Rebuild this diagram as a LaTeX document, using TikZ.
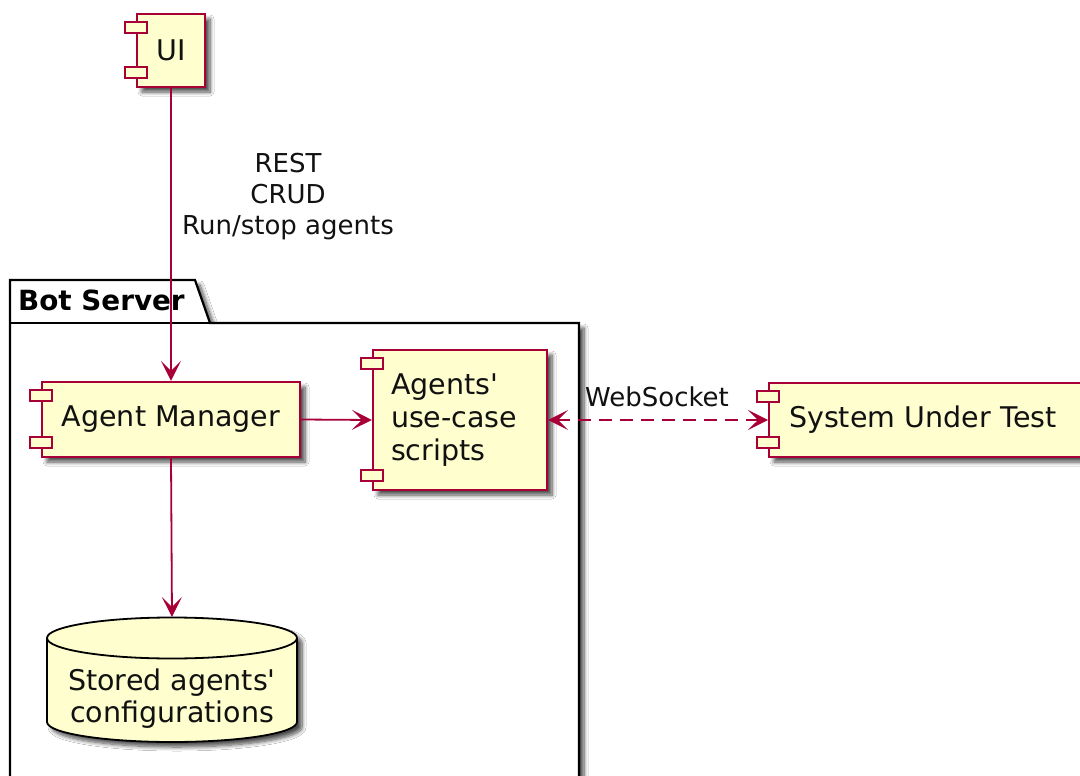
\documentclass[tikz,border=0pt]{standalone}
\usepackage{fontspec}
\setmainfont{DejaVu Sans}
\usetikzlibrary{arrows.meta,calc,shadows.blur}
\definecolor{pborder}{HTML}{A80036}
\definecolor{pfill}{HTML}{FEFECE}
\definecolor{ink}{HTML}{111111}

\tikzset{
  softshadow/.style={blur shadow={shadow xshift=5pt, shadow yshift=-5pt,
      shadow blur radius=4pt, shadow blur steps=8, shadow opacity=70}},
  comp/.style={draw=pborder, fill=pfill, line width=2.2pt, inner sep=0pt, text=ink,
      font=\fontsize{28.5}{33}\selectfont, softshadow},
  compbar/.style={draw=pborder, fill=pfill, line width=2.2pt},
  link/.style={draw=pborder, line width=1.8pt, -{Stealth[length=20pt, width=20pt, inset=10pt]}},
  wslink/.style={draw=pborder, line width=1.8pt, dash pattern=on 13pt off 8pt,
      {Stealth[length=20pt, width=20pt, inset=10pt]}-{Stealth[length=20pt, width=20pt, inset=10pt]}},
  lbl/.style={font=\fontsize{26}{31}\selectfont, text=ink, inner sep=0pt, align=center},
  pkg/.style={draw=black, fill=white, line width=2.2pt, softshadow},
  dbshape/.style={draw=black, fill=pfill, line width=1.8pt},
}

% the two small port bars on the left side of a component box
\newcommand\cbars[1]{%
  \draw[compbar] ($(#1.north west)+(-11,9)$) rectangle ++(22,11);
  \draw[compbar] ($(#1.south west)+(-11,-21)$) rectangle ++(22,11);
}

\begin{document}
\begin{tikzpicture}[x=1pt, y=-1pt]
  \useasboundingbox (0,0) rectangle (1080,776);
  \fill[white] (0,0) rectangle (1080,776);

  % package frame "Bot Server"
  \path[pkg] (10,800) -- (10,280) -- (195,280) -- (210,323) -- (579,323) -- (579,800) -- cycle;
  \draw[black, line width=2.2pt] (10,323) -- (210,323);
  \node[font=\fontsize{27.8}{32}\selectfont\bfseries, anchor=west, inner sep=0pt] (pkgname) at (18,300) {Bot Server};

  % database cylinder
  \path[dbshape, softshadow] (47,638) -- (47,722)
      arc[start angle=180, end angle=0, x radius=125, y radius=20]
      -- (297,638)
      arc[start angle=0, end angle=-180, x radius=125, y radius=20.5] -- cycle;
  \draw[dbshape, fill=none] (47,638) arc[start angle=180, end angle=0, x radius=125, y radius=20.5];
  \node[font=\fontsize{28.5}{32}\selectfont, text=ink, align=center, inner sep=0pt] (db) at (172,699)
      {Stored agents\textquotesingle\\configurations};
  \coordinate (dbtop) at (172,617);

  % components
  \node[comp, minimum width=68, minimum height=73] (ui) at (171,50.5) {UI};
  \node[comp, minimum width=258, minimum height=75] (mgr) at (171,419.5) {Agent Manager};
  \node[comp, minimum width=174, minimum height=140, text width=138, align=left] (agents) at (460,420)
      {Agents\textquotesingle\\use-case\\scripts};
  \node[comp, minimum width=315, minimum height=74, anchor=west, text width=275, align=left] (sut) at (768,420)
      {System Under Test};

  \cbars{ui}
  \cbars{mgr}
  \cbars{agents}
  \cbars{sut}

  % connectors
  \draw[link] (ui.south) -- (mgr.north);
  \node[lbl] (rest) at (288,197) {REST\\CRUD\\Run/stop agents};
  \draw[link] (mgr.east) -- (agents.west);
  \draw[link] (mgr.south) -- (dbtop);
  \draw[wslink] (agents.east) -- (sut.west);
  \node[lbl] (ws) at (657,397) {WebSocket};
\end{tikzpicture}
\end{document}
